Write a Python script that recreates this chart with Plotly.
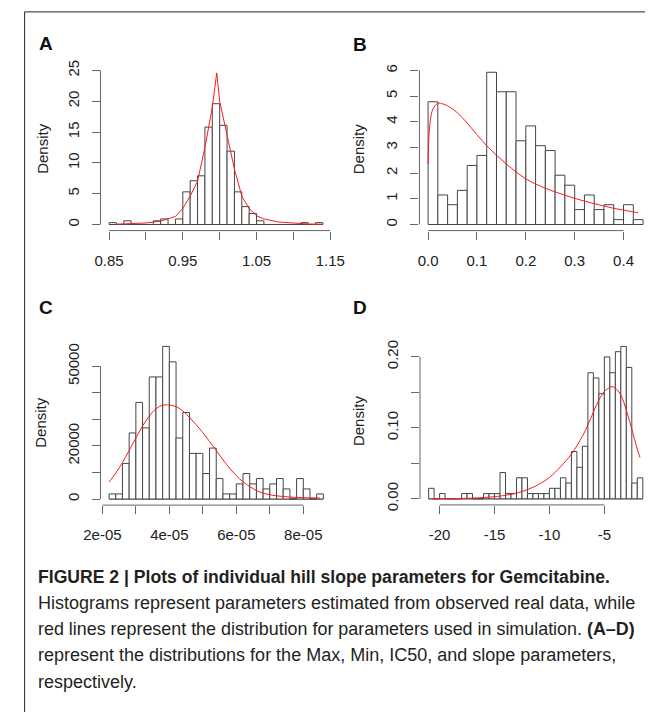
import numpy as np
import plotly.graph_objects as go

W, H = 658, 718

# ---------------- data ----------------
# Panel A (Max)
a_bin_start, a_bin_width = 0.85, 0.01
a_density = [0.3, 0, 0.6, 0, 0, 0, 0.6, 0.9, 0, 0.9, 5.3, 7.1, 7.9, 15.8, 19.6,
             16.1, 11.9, 5.3, 2.9, 1.8, 0.6, 0, 0, 0, 0, 0, 0.3, 0, 0.3]
a_curve_x = [0.86, 0.88, 0.90, 0.92, 0.94, 0.95, 0.96, 0.97, 0.98, 0.99, 0.996,
             1.00, 1.01, 1.02, 1.03, 1.04, 1.05, 1.06, 1.08, 1.10, 1.12, 1.14]
a_curve_y = [0.05, 0.1, 0.25, 0.55, 1.3, 2.6, 4.6, 7.0, 12.5, 19.0, 24.6,
             20.0, 14.5, 9.0, 4.6, 2.6, 1.4, 0.9, 0.4, 0.18, 0.08, 0.04]
a_xticks = [0.85, 0.90, 0.95, 1.00, 1.05, 1.10, 1.15]
a_xlabels = ["0.85", "", "0.95", "", "1.05", "", "1.15"]
a_yticks = [0, 5, 10, 15, 20, 25]
a_ylabels = ["0", "5", "10", "15", "20", "25"]

# Panel B (Min)
b_bin_start, b_bin_width = 0.0, 0.02
b_density = [4.78, 1.15, 0.77, 1.33, 2.30, 2.69, 5.93, 5.17, 5.17, 3.26, 3.84,
             3.07, 2.88, 1.92, 1.53, 0.58, 1.15, 0.58, 0.77, 0.19, 0.77, 0.19]
b_curve_x = [0.0, 0.002, 0.005, 0.01, 0.02, 0.03, 0.04, 0.06, 0.08, 0.10, 0.12,
             0.14, 0.16, 0.18, 0.20, 0.22, 0.24, 0.26, 0.28, 0.30, 0.32, 0.34,
             0.36, 0.38, 0.40, 0.42, 0.43]
b_curve_y = [2.35, 3.5, 4.1, 4.5, 4.72, 4.70, 4.62, 4.35, 3.95, 3.5, 3.07,
             2.70, 2.36, 2.05, 1.78, 1.58, 1.41, 1.27, 1.14, 1.02, 0.91, 0.81,
             0.72, 0.63, 0.56, 0.49, 0.46]
b_xticks = [0.0, 0.1, 0.2, 0.3, 0.4]
b_xlabels = ["0.0", "0.1", "0.2", "0.3", "0.4"]
b_yticks = [0, 1, 2, 3, 4, 5, 6]
b_ylabels = ["0", "1", "2", "3", "4", "5", "6"]

# Panel C (IC50)
c_bin_start, c_bin_width = 2.2e-05, 2e-06
c_density = [1915, 1915, 13400, 24900, 36400, 26800, 46000, 46000, 57500, 51700,
             23000, 32600, 17200, 17200, 9600, 19200, 7700, 1915, 1915, 5700,
             9600, 5700, 7700, 3800, 5700, 7700, 3800, 0, 7700, 3800, 0, 1915]
c_curve_x = [2.2e-05, 2.4e-05, 2.6e-05, 2.8e-05, 3.0e-05, 3.2e-05, 3.4e-05,
             3.6e-05, 3.8e-05, 3.95e-05, 4.2e-05, 4.4e-05, 4.6e-05, 4.8e-05,
             5.0e-05, 5.2e-05, 5.4e-05, 5.6e-05, 5.8e-05, 6.0e-05, 6.2e-05,
             6.4e-05, 6.6e-05, 6.8e-05, 7.2e-05, 7.6e-05, 8.0e-05, 8.5e-05]
c_curve_y = [6400, 9800, 13800, 18300, 23000, 27500, 31200, 34000, 35300, 35500,
             34800, 33200, 30800, 28000, 25000, 21700, 18300, 14800, 11600, 8800,
             6500, 4700, 3200, 2200, 1200, 750, 500, 380]
c_xticks = [2e-05, 3e-05, 4e-05, 5e-05, 6e-05, 7e-05, 8e-05]
c_xlabels = ["2e-05", "", "4e-05", "", "6e-05", "", "8e-05"]
c_yticks = [0, 10000, 20000, 30000, 40000, 50000]
c_ylabels = ["0", "", "20000", "", "", "50000"]

# Panel D (slope)
d_bin_start, d_bin_width = -21.0, 0.5
d_density = [0.0148, 0, 0.0074, 0, 0, 0, 0.0074, 0.0074, 0, 0, 0.0074, 0.0074,
             0.0074, 0.037, 0.0074, 0.0074, 0.0296, 0.0296, 0.0074, 0.0074,
             0.0074, 0.0074, 0.0148, 0.0148, 0.0296, 0.0222, 0.0666, 0.0444,
             0.074, 0.1776, 0.1702, 0.148, 0.1998, 0.1776, 0.2072, 0.2146,
             0.185, 0.0222, 0.0296]
d_curve_x = [-20.7, -19, -17, -15, -14, -13, -12, -11, -10, -9, -8, -7, -6.5,
             -6, -5.5, -5, -4.5, -4.3, -4, -3.5, -3, -2.5, -2, -1.75]
d_curve_y = [0.0, 0.0003, 0.001, 0.003, 0.005, 0.008, 0.013, 0.02, 0.03, 0.045,
             0.063, 0.088, 0.104, 0.122, 0.139, 0.151, 0.157, 0.158, 0.156,
             0.146, 0.125, 0.098, 0.07, 0.058]
d_xticks = [-20, -15, -10, -5]
d_xlabels = ["-20", "-15", "-10", "-5"]
d_yticks = [0, 0.05, 0.10, 0.15, 0.20]
d_ylabels = ["0.00", "", "0.10", "", "0.20"]

# ---------------- styling ----------------
FONT = "Liberation Sans, Arial, Helvetica, sans-serif"
BAR_LINE = "#454545"
AXIS = "#666666"
TXT = "#222222"
RED = "#ff1a1a"

fig = go.Figure()


def px_x(x):
    return x / W


def px_y(y):
    return 1 - y / H


panels = [
    dict(n=1, bs=a_bin_start, bw=a_bin_width, d=a_density, cx=a_curve_x, cy=a_curve_y,
         xt=a_xticks, xl=a_xlabels, yt=a_yticks, yl=a_ylabels,
         xr=[0.8384, 1.1516], yr=[-0.988, 25.69], xd=(87.5, 329.5), yd=(61.2, 228.4),
         spline=False, letter="A", lpos=(30, 38), dpos=(26.5, 145)),
    dict(n=2, bs=b_bin_start, bw=b_bin_width, d=b_density, cx=b_curve_x, cy=b_curve_y,
         xt=b_xticks, xl=b_xlabels, yt=b_yticks, yl=b_ylabels,
         xr=[-0.0176, 0.4439], yr=[-0.237, 6.167], xd=(421.7, 658), yd=(61.2, 228.4),
         spline=True, letter="B", lpos=(359, 39.5), dpos=(358, 145)),
    dict(n=3, bs=c_bin_start, bw=c_bin_width, d=c_density, cx=c_curve_x, cy=c_curve_y,
         xt=c_xticks, xl=c_xlabels, yt=c_yticks, yl=c_ylabels,
         xr=[1.944e-05, 8.856e-05], yr=[-2300, 59800], xd=(87.5, 330), yd=(340, 507.6),
         spline=True, letter="C", lpos=(30, 306.5), dpos=(25, 423)),
    dict(n=4, bs=d_bin_start, bw=d_bin_width, d=d_density, cx=d_curve_x, cy=d_curve_y,
         xt=d_xticks, xl=d_xlabels, yt=d_yticks, yl=d_ylabels,
         xr=[-21.78, -1.30], yr=[-0.00858, 0.2232], xd=(422.3, 658), yd=(340, 507.4),
         spline=True, letter="D", lpos=(359, 307), dpos=(358.5, 422)),
]

annotations = []
shapes = []
layout_axes = {}

for p in panels:
    n = p["n"]
    sfx = "" if n == 1 else str(n)
    xa, ya = "x" + sfx, "y" + sfx
    dens = np.array(p["d"], dtype=float)
    edges = p["bs"] + p["bw"] * np.arange(len(dens) + 1)
    centers = (edges[:-1] + edges[1:]) / 2

    fig.add_trace(go.Bar(
        x=centers, y=dens, width=p["bw"], xaxis=xa, yaxis=ya,
        marker=dict(color="white", line=dict(color=BAR_LINE, width=1)),
        showlegend=False, hoverinfo="skip"))
    fig.add_trace(go.Scatter(
        x=p["cx"], y=p["cy"], mode="lines", xaxis=xa, yaxis=ya,
        line=dict(color=RED, width=1, shape="spline" if p["spline"] else "linear"),
        showlegend=False, hoverinfo="skip"))

    # baseline of zero-height bins
    shapes.append(dict(type="line", xref=xa, yref=ya, x0=edges[0], x1=edges[-1],
                       y0=0, y1=0, line=dict(color=BAR_LINE, width=1), layer="below"))
    # R-style axis lines spanning first..last tick
    shapes.append(dict(type="line", xref=xa, yref=ya + " domain", x0=p["xt"][0],
                       x1=p["xt"][-1], y0=0, y1=0, line=dict(color=AXIS, width=1)))
    shapes.append(dict(type="line", xref=xa + " domain", yref=ya, x0=0, x1=0,
                       y0=p["yt"][0], y1=p["yt"][-1], line=dict(color=AXIS, width=1)))

    layout_axes["xaxis" + sfx] = dict(
        domain=[px_x(p["xd"][0]), px_x(p["xd"][1])], range=p["xr"], anchor=ya,
        showgrid=False, zeroline=False, showline=False, ticks="outside",
        ticklen=8, tickwidth=1, tickcolor=AXIS, tickvals=p["xt"], ticktext=p["xl"],
        tickfont=dict(family=FONT, size=15, color=TXT), ticklabelstandoff=8,
        fixedrange=True)
    layout_axes["yaxis" + sfx] = dict(
        domain=[px_y(p["yd"][1]), px_y(p["yd"][0])], range=p["yr"], anchor=xa,
        showgrid=False, zeroline=False, showline=False, ticks="outside",
        ticklen=8, tickwidth=1, tickcolor=AXIS, tickvals=p["yt"], ticktext=p["yl"],
        tickangle=-90, tickfont=dict(family=FONT, size=15, color=TXT),
        ticklabelstandoff=7, fixedrange=True)

    annotations.append(dict(text="<b>%s</b>" % p["letter"], xref="paper", yref="paper",
                            x=px_x(p["lpos"][0]), y=px_y(p["lpos"][1]),
                            xanchor="center", yanchor="middle", showarrow=False,
                            font=dict(family=FONT, size=19, color="#111111")))
    annotations.append(dict(text="Density", xref="paper", yref="paper",
                            x=px_x(p["dpos"][0]), y=px_y(p["dpos"][1]), textangle=-90,
                            xanchor="center", yanchor="middle", showarrow=False,
                            font=dict(family=FONT, size=15, color=TXT)))

# caption
caption_lines = [
    "<b>FIGURE 2 | Plots of individual hill slope parameters for Gemcitabine.</b>",
    "Histograms represent parameters estimated from observed real data, while",
    "red lines represent the distribution for parameters used in simulation. <b>(A–D)</b>",
    "represent the distributions for the Max, Min, IC50, and slope parameters,",
    "respectively.",
]
cap_sizes = [17.6, 18, 17.9, 18, 18]
cap_y = [581, 607.5, 634, 660.5, 687]
for line, yy, fs in zip(caption_lines, cap_y, cap_sizes):
    annotations.append(dict(text=line, xref="paper", yref="paper", x=px_x(20),
                            y=px_y(yy), xanchor="left", yanchor="middle",
                            showarrow=False,
                            font=dict(family=FONT, size=fs, color="#231f20")))

# frame of the figure box
shapes.append(dict(type="line", xref="paper", yref="paper", x0=px_x(8), x1=1,
                   y0=px_y(6), y1=px_y(6), line=dict(color="#222222", width=1)))
shapes.append(dict(type="line", xref="paper", yref="paper", x0=px_x(8), x1=px_x(8),
                   y0=0, y1=px_y(6), line=dict(color="#222222", width=1)))

fig.update_layout(
    width=W, height=H, autosize=False,
    margin=dict(l=0, r=0, t=0, b=0, pad=0),
    paper_bgcolor="white", plot_bgcolor="white",
    barmode="overlay", showlegend=False,
    annotations=annotations, shapes=shapes,
    **layout_axes,
)

fig.write_html(
    "out.html",
    config={"displayModeBar": False},
    post_script="document.body.style.margin='0';document.body.style.padding='0';"
                "document.body.style.overflow='hidden';",
)
